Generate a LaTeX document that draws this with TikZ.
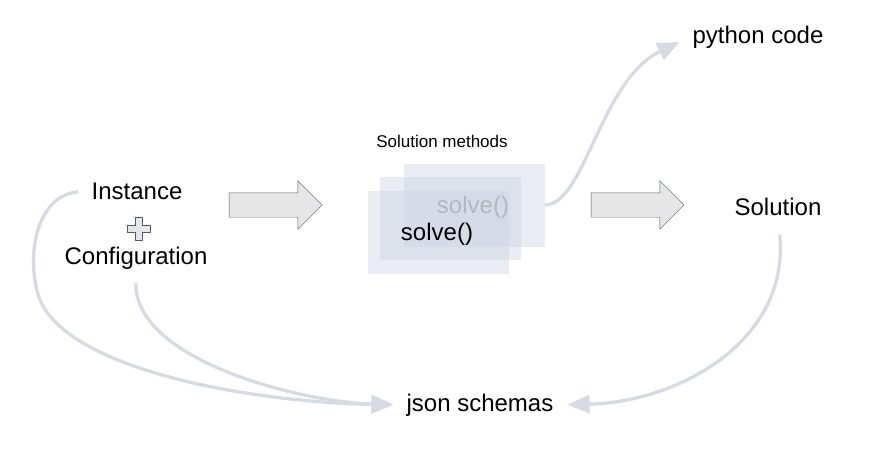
\documentclass[tikz,border=0pt]{standalone}
\usepackage{fontspec}
\setmainfont{Liberation Sans}
\usetikzlibrary{shapes.arrows, arrows.meta}
\definecolor{linkgray}{HTML}{D5DAE4}
\definecolor{boxfill}{HTML}{C9D1E0}
\definecolor{arrfill}{HTML}{E6E6E6}
\definecolor{arrdraw}{HTML}{505A6E}
\definecolor{ghost}{HTML}{B4B7BF}

\begin{document}
\begin{tikzpicture}[x=1pt, y=-1pt,
	txt/.style={font=\fontsize{24}{28}\selectfont, inner sep=2pt},
	methodbox/.style={fill=boxfill, fill opacity=0.4, minimum width=141pt, minimum height=83pt, inner sep=0pt},
	bigarrow/.style={single arrow, draw=arrdraw, fill=arrfill, minimum height=93pt, single arrow head extend=12pt, inner xsep=0pt, inner ysep=12pt},
	flow/.style={draw=linkgray, line width=3.3pt, -{Triangle[length=22pt, width=18pt]}}]
			\useasboundingbox (0,0) rectangle (894,459);
			% Input
			\node[txt] (inst) at (137,191) {Instance};
			\node[txt] (conf) at (136,258) {Configuration};
			\draw[draw=arrdraw, fill=arrfill] (135.5,217.5) -- ++(7,0) -- ++(0,8) -- ++(8,0) -- ++(0,7) -- ++(-8,0) -- ++(0,8) -- ++(-7,0) -- ++(0,-8) -- ++(-8,0) -- ++(0,-7) -- ++(8,0) -- cycle;
			% Methods
			\node[font=\fontsize{17}{20}\selectfont] (methods) at (442,141) {Solution methods};
			\node[methodbox] (back) at (474,205) {};
			\node[methodbox] (mid) at (450,218.5) {};
			\node[methodbox] (front) at (438,232.5) {};
			\node[txt, text=ghost] (solveb) at (473,207) {solve()};
			\node[txt] (solvef) at (437,234) {solve()};
			% Outputs
			\node[txt] (py) at (758,37) {python code};
			\node[txt] (sol) at (778,207) {Solution};
			\node[txt] (json) at (480,405) {json schemas};
			% Block arrows
			\node[bigarrow] (arr1) at (269.5,205) {};
			\node[bigarrow] (arr2) at (631.5,205) {};
			% Curves
			\draw[flow, shorten >=12pt] (back.east) .. controls (585,205) and (600,80) .. (py.west);
			\draw[flow, shorten <=11pt, shorten >=11pt] (inst.west) .. controls (35,195) and (25,260) .. (40,300) .. controls (70,370) and (250,402) .. (json.west);
			\draw[flow, shorten <=12pt, shorten >=11pt] (conf.south) .. controls (135,360) and (300,402) .. (json.west);
			\draw[flow, shorten <=17pt, shorten >=12pt] (sol.south) .. controls (790,340) and (680,402) .. (json.east);
		\end{tikzpicture}
\end{document}
